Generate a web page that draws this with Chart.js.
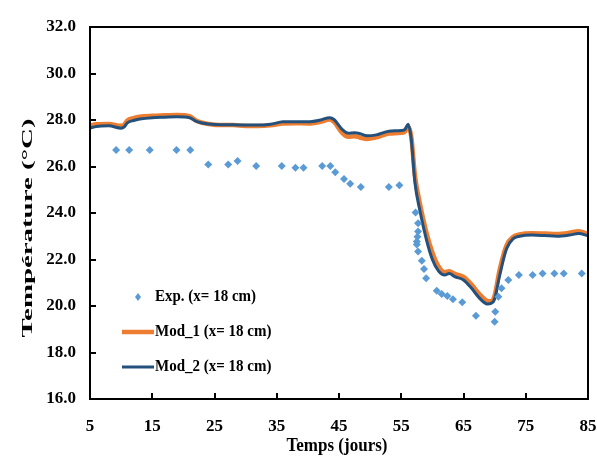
<!DOCTYPE html>
<html>
<head>
<meta charset="utf-8">
<script src="https://cdn.jsdelivr.net/npm/chart.js@4.4.0/dist/chart.umd.min.js"></script>
<style>
html,body{margin:0;padding:0;background:#fff;}
#wrap{width:597px;height:459px;position:relative;}
</style>
</head>
<body>
<div id="wrap"><canvas id="c" width="597" height="459"></canvas></div>
<script>
// ---- data ----
const expDays = [9.2,11.3,14.6,18.9,21.1,24.0,27.2,28.7,31.7,35.8,38.0,39.3,42.3,43.6,44.4,45.8,46.8,48.5,53.0,54.7,57.3,57.7,57.7,57.6,57.5,57.5,57.7,58.3,58.65,59.0,60.7,61.5,62.4,63.3,64.8,67.0,70.1,70.0,70.6,71.1,72.2,73.9,76.1,77.7,79.6,81.1,84.0];
const expTemp = [26.71,26.71,26.71,26.71,26.71,26.09,26.09,26.24,26.02,26.02,25.95,25.95,26.02,26.02,25.75,25.46,25.26,25.12,25.12,25.19,24.02,23.56,23.2,22.98,22.77,22.65,22.34,21.95,21.59,21.19,20.66,20.52,20.43,20.29,20.16,19.58,19.75,19.32,20.4,20.76,21.12,21.33,21.33,21.4,21.4,21.4,21.4];

const modDays = [5,6,8,10,10.5,11,12,13,15,17,19,21,22,23,24,26,28,30,32,34,36,38,40,42,43.5,44.2,45.5,46.5,47.5,48.3,49.5,51,53,55,55.6,56.1,56.6,57.2,58,59,60,61,62,62.7,63.6,65,66.3,67.6,68.8,69.5,70,70.8,71.9,73,74,76,78,80,82,83.5,85];
const mod1 = [27.75,27.82,27.83,27.75,27.8,27.98,28.08,28.14,28.18,28.2,28.22,28.17,27.98,27.88,27.83,27.78,27.78,27.74,27.74,27.77,27.85,27.86,27.85,27.92,28.02,27.92,27.45,27.28,27.3,27.25,27.18,27.25,27.42,27.45,27.5,27.7,27.3,25.6,24.4,23.2,22.3,21.7,21.45,21.5,21.38,21.25,20.92,20.5,20.22,20.2,20.45,21.55,22.6,22.98,23.08,23.13,23.12,23.1,23.15,23.22,23.1];
const mod2 = [27.65,27.72,27.75,27.65,27.7,27.88,27.98,28.04,28.1,28.12,28.14,28.1,27.95,27.87,27.83,27.8,27.8,27.78,27.78,27.82,27.92,27.93,27.92,28.0,28.1,28.02,27.6,27.43,27.45,27.42,27.32,27.36,27.52,27.55,27.6,27.82,27.2,25.3,24.1,22.9,22.0,21.5,21.33,21.4,21.26,21.12,20.76,20.33,20.09,20.12,20.3,21.3,22.45,22.9,23.0,23.05,23.03,23.0,23.05,23.12,23.02];

const xTicks = [5,15,25,35,45,55,65,75,85];
const yTicks = [16,18,20,22,24,26,28,30,32];
const legendLabels = ['Exp. (x= 18 cm)','Mod_1 (x= 18 cm)','Mod_2 (x= 18 cm)'];
const xTitle = 'Temps (jours)';
const yTitle = 'Température (°C)';

const EXP_COLOR = '#5b9bd5';
const MOD1_COLOR = '#ed7d31';
const MOD2_COLOR = '#24507c';
const FONT = 'Liberation Serif';

const pts = (xs, ys) => xs.map((x, i) => ({x: x, y: ys[i]}));

const decor = {
  id: 'decor',
  afterDraw(chart) {
    const ctx = chart.ctx;
    const a = chart.chartArea;
    const xs = chart.scales.x, ys = chart.scales.y;
    ctx.save();
    ctx.strokeStyle = '#000';
    ctx.lineWidth = 2;
    ctx.strokeRect(a.left, a.top, a.right - a.left, a.bottom - a.top);
    ctx.beginPath();
    yTicks.forEach(v => {
      const py = Math.round(ys.getPixelForValue(v));
      ctx.moveTo(a.left, py); ctx.lineTo(a.left + 6, py);
    });
    xTicks.forEach(v => {
      const px = Math.round(xs.getPixelForValue(v));
      ctx.moveTo(px, a.bottom); ctx.lineTo(px, a.bottom - 6);
    });
    ctx.stroke();

    // axis titles
    ctx.fillStyle = '#000';
    ctx.textAlign = 'center';
    ctx.textBaseline = 'middle';
    ctx.font = 'bold 17px "' + FONT + '"';
    ctx.save();
    ctx.translate((a.left + a.right) / 2 - 2, 446);
    ctx.scale(1, 1.15);
    ctx.fillText(xTitle, 0, 0);
    ctx.restore();

    ctx.save();
    ctx.font = 'bold 16px "' + FONT + '"';
    const w = ctx.measureText(yTitle).width;
    ctx.translate(28, 228);
    ctx.rotate(-Math.PI / 2);
    ctx.scale(219 / w, 0.95);
    ctx.fillText(yTitle, 0, 0);
    ctx.restore();

    // legend
    ctx.font = 'bold 15px "' + FONT + '"';
    ctx.textAlign = 'left';
    const rows = [297, 332, 367];
    ctx.fillStyle = EXP_COLOR;
    ctx.beginPath();
    ctx.moveTo(138, rows[0] - 4); ctx.lineTo(141, rows[0]); ctx.lineTo(138, rows[0] + 4); ctx.lineTo(135, rows[0]);
    ctx.closePath(); ctx.fill();
    ctx.lineCap = 'butt';
    ctx.strokeStyle = MOD1_COLOR; ctx.lineWidth = 4.5;
    ctx.beginPath(); ctx.moveTo(122, rows[1]); ctx.lineTo(154, rows[1]); ctx.stroke();
    ctx.strokeStyle = MOD2_COLOR; ctx.lineWidth = 3;
    ctx.beginPath(); ctx.moveTo(122, rows[2]); ctx.lineTo(154, rows[2]); ctx.stroke();
    ctx.fillStyle = '#000';
    legendLabels.forEach((t, i) => {
      ctx.save();
      ctx.translate(155, rows[i]);
      ctx.scale(1, 1.12);
      ctx.fillText(t, 0, 0);
      ctx.restore();
    });
    ctx.restore();
  }
};

new Chart(document.getElementById('c'), {
  type: 'scatter',
  data: {
    datasets: [
      {
        label: legendLabels[0],
        data: pts(expDays, expTemp),
        showLine: false,
        pointStyle: 'rectRot',
        pointRadius: 4,
        backgroundColor: EXP_COLOR,
        borderColor: EXP_COLOR,
        borderWidth: 0,
        order: 0
      },
      {
        label: legendLabels[1],
        data: pts(modDays, mod1),
        showLine: true,
        pointRadius: 0,
        borderColor: MOD1_COLOR,
        borderWidth: 4.5,
        cubicInterpolationMode: 'monotone',
        order: 2
      },
      {
        label: legendLabels[2],
        data: pts(modDays, mod2),
        showLine: true,
        pointRadius: 0,
        borderColor: MOD2_COLOR,
        borderWidth: 3,
        cubicInterpolationMode: 'monotone',
        order: 1
      }
    ]
  },
  options: {
    responsive: false,
    animation: false,
    devicePixelRatio: 1,
    layout: { padding: { left: 0, right: 9, top: 27, bottom: 0 } },
    plugins: { legend: { display: false }, tooltip: { enabled: false } },
    scales: {
      x: {
        type: 'linear', min: 5, max: 85,
        afterFit: s => { s.height = 60; s.paddingLeft = 0; s.paddingRight = 0; },
        afterBuildTicks: s => { s.ticks = xTicks.map(v => ({value: v})); },
        ticks: { font: { family: FONT, size: 17, weight: 'bold' }, color: '#000', padding: 17, maxRotation: 0, autoSkip: false },
        grid: { display: false, drawTicks: false },
        border: { display: false }
      },
      y: {
        type: 'linear', min: 16, max: 32,
        afterFit: s => { s.width = 90; s.paddingTop = 0; s.paddingBottom = 0; },
        afterBuildTicks: s => { s.ticks = yTicks.map(v => ({value: v})); },
        ticks: { font: { family: FONT, size: 17, weight: 'bold' }, color: '#000', padding: 14, callback: v => v.toFixed(1) },
        grid: { display: false, drawTicks: false },
        border: { display: false }
      }
    }
  },
  plugins: [decor]
});
</script>
</body>
</html>
